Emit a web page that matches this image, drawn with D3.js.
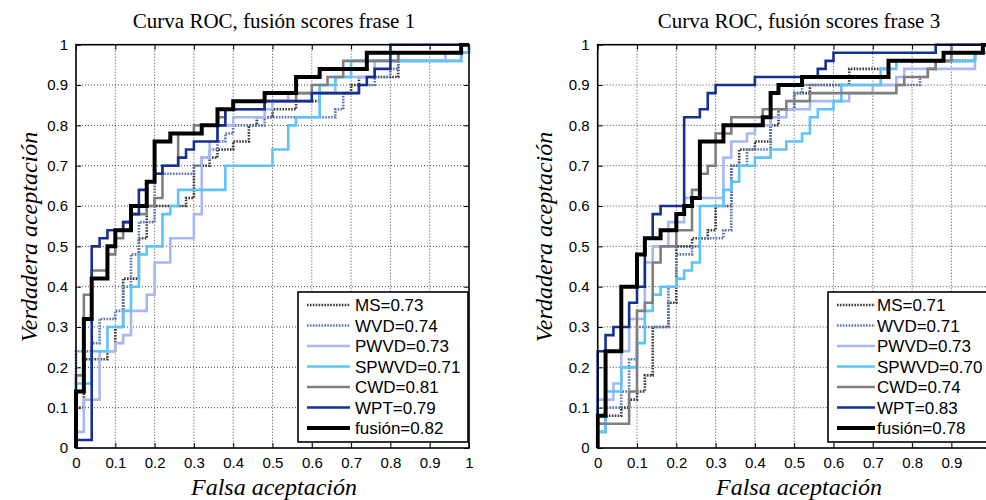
<!DOCTYPE html>
<html>
<head>
<meta charset="utf-8">
<script src="https://cdn.jsdelivr.net/npm/d3@7"></script>
<style>
  html, body { margin: 0; padding: 0; background: #fff; overflow: hidden; }
  svg { display: block; }
  .tick text { font-family: "Liberation Sans", Arial, sans-serif; font-size: 15px; fill: #000; }
</style>
</head>
<body>
<svg id="chart" width="986" height="500"></svg>
<script>
// ROC operating points [false acceptance, true acceptance] per method, two phrases.
const methods = ["MS", "WVD", "PWVD", "SPWVD", "CWD", "WPT", "fusión"];

const auc1 = ["0.73", "0.74", "0.73", "0.71", "0.81", "0.79", "0.82"];
const auc3 = ["0.71", "0.71", "0.73", "0.70", "0.74", "0.83", "0.78"];

const ms1 = [[0,0.1],[0.02,0.22],[0.08,0.24],[0.1,0.3],[0.12,0.42],[0.16,0.52],[0.18,0.6],[0.28,0.62],[0.3,0.7],[0.34,0.72],[0.36,0.74],[0.4,0.76],[0.44,0.8],[0.46,0.82],[0.5,0.84],[0.56,0.86],[0.62,0.88],[0.7,0.9],[0.72,0.92],[0.82,0.98],[0.98,1],[1,1]];
const wvd1 = [[0,0.24],[0.04,0.26],[0.06,0.32],[0.1,0.34],[0.12,0.4],[0.14,0.48],[0.16,0.56],[0.2,0.68],[0.3,0.7],[0.32,0.72],[0.34,0.74],[0.36,0.76],[0.38,0.78],[0.4,0.8],[0.48,0.82],[0.66,0.84],[0.68,0.88],[0.72,0.9],[0.76,0.92],[0.8,0.94],[0.82,0.96],[0.98,0.98],[1,1]];
const pwvd1 = [[0,0.04],[0.02,0.12],[0.06,0.24],[0.1,0.26],[0.12,0.28],[0.14,0.34],[0.18,0.38],[0.2,0.46],[0.24,0.52],[0.3,0.58],[0.32,0.72],[0.34,0.76],[0.36,0.8],[0.4,0.82],[0.48,0.84],[0.5,0.86],[0.54,0.88],[0.66,0.92],[0.76,0.96],[0.94,0.98],[1,1]];
const spwvd1 = [[0,0.16],[0.04,0.24],[0.08,0.3],[0.12,0.34],[0.14,0.4],[0.16,0.48],[0.18,0.5],[0.22,0.58],[0.24,0.6],[0.26,0.64],[0.38,0.7],[0.5,0.74],[0.54,0.8],[0.56,0.82],[0.62,0.9],[0.66,0.92],[0.7,0.96],[0.98,0.98],[1,1]];
const cwd1 = [[0,0.18],[0.02,0.38],[0.04,0.44],[0.08,0.48],[0.1,0.52],[0.12,0.56],[0.14,0.58],[0.18,0.6],[0.2,0.62],[0.22,0.7],[0.26,0.78],[0.3,0.8],[0.36,0.82],[0.38,0.84],[0.48,0.86],[0.56,0.88],[0.6,0.9],[0.64,0.92],[0.68,0.96],[0.82,0.98],[0.98,1],[1,1]];
const wpt1 = [[0,0.02],[0.04,0.5],[0.06,0.52],[0.08,0.54],[0.12,0.56],[0.14,0.58],[0.16,0.64],[0.18,0.66],[0.2,0.68],[0.22,0.7],[0.26,0.72],[0.28,0.74],[0.3,0.76],[0.36,0.8],[0.38,0.84],[0.48,0.86],[0.6,0.88],[0.72,0.9],[0.74,0.92],[0.76,0.94],[0.8,1],[1,1]];
const fus1 = [[0,0.14],[0.02,0.32],[0.04,0.42],[0.08,0.5],[0.1,0.54],[0.14,0.6],[0.18,0.66],[0.2,0.76],[0.24,0.78],[0.32,0.8],[0.36,0.84],[0.4,0.86],[0.48,0.88],[0.56,0.92],[0.62,0.94],[0.74,0.98],[0.98,1],[1,1]];

const ms3 = [[0,0.04],[0.02,0.08],[0.06,0.1],[0.08,0.12],[0.1,0.14],[0.12,0.18],[0.14,0.3],[0.18,0.36],[0.2,0.5],[0.24,0.52],[0.28,0.54],[0.3,0.6],[0.34,0.7],[0.36,0.74],[0.4,0.76],[0.44,0.8],[0.46,0.84],[0.5,0.88],[0.54,0.9],[0.64,0.94],[0.74,0.96],[0.96,0.98],[1,1]];
const wvd3 = [[0,0.06],[0.02,0.1],[0.06,0.14],[0.08,0.22],[0.1,0.3],[0.18,0.4],[0.2,0.48],[0.24,0.5],[0.26,0.52],[0.32,0.54],[0.34,0.7],[0.38,0.74],[0.44,0.82],[0.46,0.84],[0.5,0.88],[0.52,0.9],[0.82,0.92],[0.84,0.94],[0.86,0.96],[0.96,0.98],[1,1]];
const pwvd3 = [[0,0.12],[0.04,0.16],[0.06,0.24],[0.08,0.32],[0.12,0.46],[0.14,0.5],[0.18,0.56],[0.22,0.62],[0.32,0.72],[0.34,0.76],[0.38,0.78],[0.4,0.8],[0.44,0.82],[0.48,0.84],[0.54,0.86],[0.64,0.88],[0.7,0.9],[0.76,0.92],[0.78,0.94],[0.96,0.98],[1,1]];
const spwvd3 = [[0,0.04],[0.02,0.14],[0.06,0.2],[0.1,0.26],[0.12,0.34],[0.14,0.38],[0.16,0.4],[0.2,0.42],[0.22,0.44],[0.24,0.46],[0.26,0.6],[0.32,0.64],[0.34,0.66],[0.36,0.7],[0.4,0.72],[0.44,0.74],[0.48,0.76],[0.52,0.78],[0.54,0.82],[0.56,0.84],[0.6,0.86],[0.62,0.9],[0.72,0.94],[0.76,0.96],[0.96,0.98],[1,1]];
const cwd3 = [[0,0.06],[0.08,0.14],[0.1,0.34],[0.12,0.36],[0.14,0.46],[0.16,0.5],[0.2,0.54],[0.24,0.64],[0.26,0.68],[0.28,0.7],[0.3,0.78],[0.34,0.82],[0.42,0.84],[0.48,0.86],[0.54,0.88],[0.76,0.9],[0.78,0.92],[0.84,0.94],[0.86,0.96],[0.9,1],[1,1]];
const wpt3 = [[0,0.24],[0.02,0.28],[0.04,0.3],[0.08,0.36],[0.1,0.4],[0.12,0.52],[0.14,0.58],[0.16,0.6],[0.22,0.82],[0.26,0.84],[0.28,0.88],[0.3,0.9],[0.4,0.92],[0.56,0.94],[0.58,0.96],[0.6,0.98],[0.86,1],[1,1]];
const fus3 = [[0,0.08],[0.02,0.24],[0.06,0.4],[0.1,0.48],[0.12,0.52],[0.16,0.54],[0.2,0.58],[0.22,0.6],[0.24,0.62],[0.26,0.76],[0.32,0.8],[0.42,0.82],[0.44,0.88],[0.46,0.9],[0.52,0.92],[0.74,0.96],[0.88,0.98],[0.98,1],[1,1]];

const tickValues = [0, 0.1, 0.2, 0.3, 0.4, 0.5, 0.6, 0.7, 0.8, 0.9, 1];
const tickLabels = ["0", "0.1", "0.2", "0.3", "0.4", "0.5", "0.6", "0.7", "0.8", "0.9", "1"];

const titles = ["Curva ROC, fusión scores frase 1", "Curva ROC, fusión scores frase 3"];
const xTitle = "Falsa aceptación";
const yTitle = "Verdadera aceptación";

// Line styles per method (same order as `methods`)
const styles = [
  { color: "#3a3a3a", width: 2.6, dash: "1.6,1.3" },
  { color: "#5b74ad", width: 2.6, dash: "1.6,1.3" },
  { color: "#a9b7f2", width: 2.6, dash: null },
  { color: "#5ec3f7", width: 2.6, dash: null },
  { color: "#7f7f7f", width: 2.6, dash: null },
  { color: "#17308f", width: 2.6, dash: null },
  { color: "#000000", width: 4.0, dash: null }
];

const panels = [
  { curves: [ms1, wvd1, pwvd1, spwvd1, cwd1, wpt1, fus1], auc: auc1, title: titles[0],
    left: 76, right: 469, titleX: 274, yLabelX: 37, xLabelsShown: 11,
    legend: { x: 298, w: 170, lineX: 307, lineW: 43, textX: 355 } },
  { curves: [ms3, wvd3, pwvd3, spwvd3, cwd3, wpt3, fus3], auc: auc3, title: titles[1],
    left: 597.7, right: 990.7, titleX: 799, yLabelX: 552, xLabelsShown: 10,
    legend: { x: 828, w: 170, lineX: 837, lineW: 38, textX: 877 } }
];

const plotTop = 44.7, plotBottom = 448;
const svg = d3.select("#chart");

panels.forEach((p, pi) => {
  const x = d3.scaleLinear().domain([0, 1]).range([p.left, p.right]);
  const y = d3.scaleLinear().domain([0, 1]).range([plotBottom, plotTop]);
  const g = svg.append("g");

  // grid
  const grid = g.append("g");
  tickValues.slice(1, -1).forEach(v => {
    grid.append("line").attr("x1", x(v)).attr("x2", x(v)).attr("y1", plotTop).attr("y2", plotBottom);
    grid.append("line").attr("x1", p.left).attr("x2", p.right).attr("y1", y(v)).attr("y2", y(v));
  });
  grid.selectAll("line").attr("stroke", "#000").attr("stroke-width", 0.9)
    .attr("stroke-dasharray", "1,2").attr("opacity", 0.8);

  // axes (ticks pointing inward, labels outside)
  const fmt = (d) => tickLabels[tickValues.indexOf(d)];
  const xFmt = (d) => tickValues.indexOf(d) < p.xLabelsShown ? fmt(d) : "";
  g.append("g").attr("transform", `translate(0,${plotBottom})`)
    .call(d3.axisBottom(x).tickValues(tickValues).tickFormat(xFmt).tickSizeInner(-5).tickSizeOuter(0).tickPadding(9));
  g.append("g").attr("transform", `translate(${p.left},0)`)
    .call(d3.axisLeft(y).tickValues(tickValues).tickFormat(fmt).tickSizeInner(-5).tickSizeOuter(0).tickPadding(8));
  g.append("g").attr("transform", `translate(0,${plotTop})`)
    .call(d3.axisTop(x).tickValues(tickValues).tickFormat("").tickSizeInner(-5).tickSizeOuter(0));
  g.append("g").attr("transform", `translate(${p.right},0)`)
    .call(d3.axisRight(y).tickValues(tickValues).tickFormat("").tickSizeInner(-5).tickSizeOuter(0));
  g.selectAll(".domain").remove();
  g.selectAll(".tick line").attr("stroke", "#000").attr("stroke-width", 1);

  // clip for curves
  const clipId = "clip" + pi;
  svg.append("clipPath").attr("id", clipId).append("rect")
    .attr("x", p.left - 2).attr("y", plotTop - 2).attr("width", p.right - p.left + 4).attr("height", plotBottom - plotTop + 4);

  const line = d3.line().x(d => x(d[0])).y(d => y(d[1])).curve(d3.curveStepAfter);
  const curvesG = g.append("g").attr("clip-path", `url(#${clipId})`);
  p.curves.forEach((c, i) => {
    const s = styles[i];
    curvesG.append("path").datum([[0, 0]].concat(c))
      .attr("d", line).attr("fill", "none")
      .attr("stroke", s.color).attr("stroke-width", s.width)
      .attr("stroke-dasharray", s.dash).attr("stroke-linejoin", "miter").attr("stroke-linecap", "butt");
  });

  // frame
  g.append("rect").attr("x", p.left).attr("y", plotTop).attr("width", p.right - p.left).attr("height", plotBottom - plotTop)
    .attr("fill", "none").attr("stroke", "#000").attr("stroke-width", 1.6);

  // legend
  const L = p.legend;
  const lg = g.append("g");
  lg.append("rect").attr("x", L.x).attr("y", 292).attr("width", L.w).attr("height", 150)
    .attr("fill", "#fff").attr("stroke", "#000").attr("stroke-width", 1.6);
  methods.forEach((m, i) => {
    const s = styles[i];
    const ry = 305 + i * 20.5;
    lg.append("line").attr("x1", L.lineX).attr("x2", L.lineX + L.lineW).attr("y1", ry).attr("y2", ry)
      .attr("stroke", s.color).attr("stroke-width", s.width).attr("stroke-dasharray", s.dash);
    lg.append("text").attr("x", L.textX).attr("y", ry + 6)
      .attr("font-family", "'Liberation Sans', Arial, sans-serif").attr("font-size", 17)
      .text(`${m}=${p.auc[i]}`);
  });

  // titles
  g.append("text").attr("x", p.titleX).attr("y", 28).attr("text-anchor", "middle")
    .attr("font-family", "'Liberation Serif', 'DejaVu Serif', serif").attr("font-size", 21)
    .text(p.title);
  g.append("text").attr("x", p.titleX).attr("y", 495).attr("text-anchor", "middle")
    .attr("font-family", "'Liberation Serif', 'DejaVu Serif', serif").attr("font-style", "italic").attr("font-size", 24)
    .text(xTitle);
  g.append("text").attr("transform", `translate(${p.yLabelX},237) rotate(-90)`).attr("text-anchor", "middle")
    .attr("font-family", "'Liberation Serif', 'DejaVu Serif', serif").attr("font-style", "italic").attr("font-size", 24)
    .text(yTitle);
});
</script>
</body>
</html>
